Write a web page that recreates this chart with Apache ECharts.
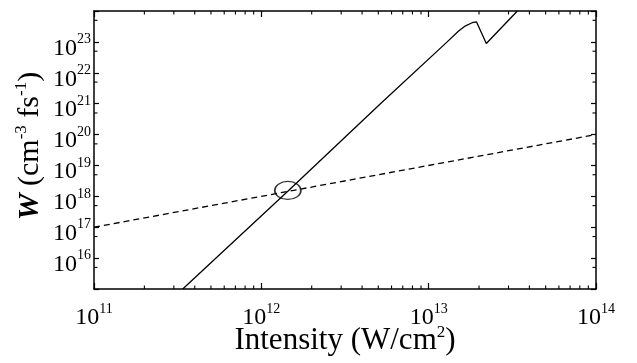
<!DOCTYPE html>
<html>
<head>
<meta charset="utf-8">
<script src="https://cdn.jsdelivr.net/npm/echarts@6/dist/echarts.min.js"></script>
<style>html,body{margin:0;padding:0;background:#fff;}#c{width:637px;height:363px;}</style>
</head>
<body>
<div id="c"></div>
<script>
// ---- data ----
const solidI = [3.39e11, 1.45e12, 5.13e12, 1.29e13, 1.51e13, 1.66e13, 1.82e13, 1.93e13, 2.21e13, 3.39e13];
const solidW = [1.0e15, 1.51e18, 9.8e20, 1.0e23, 2.24e23, 3.31e23, 4.17e23, 4.47e23, 8.9e22, 1.0e24];
const dashI = [1e11, 1e14];
const dashW = [1e17, 1e20];
const markI = [1.44e12];
const markW = [1.55e18];
const xMinorTicks = [2e11,3e11,4e11,5e11,6e11,7e11,8e11,9e11,
                     2e12,3e12,4e12,5e12,6e12,7e12,8e12,9e12,
                     2e13,3e13,4e13,5e13,6e13,7e13,8e13,9e13];
const yMinorTicks = [5e15,5e16,5e17,5e18,5e19,5e20,5e21,5e22,5e23];
const xLabelExps = [11, 12, 13, 14];
const yLabelExps = [16, 17, 18, 19, 20, 21, 22, 23];
const X_MIN = 1e11, X_MAX = 1e14, Y_MIN = 1e15, Y_MAX = 1e24;

const FONT = 'Liberation Serif';
const zip = (a, b) => a.map((v, i) => [v, b[i]]);
const expOf = v => Math.round(Math.log10(v));

const tickRich = {
  b: { fontFamily: FONT, fontSize: 24, color: '#000', lineHeight: 32 },
  s: { fontFamily: FONT, fontSize: 14, color: '#000', verticalAlign: 'top', lineHeight: 14 }
};
function fmt(list) {
  return function (v) {
    const e = expOf(v);
    if (list.indexOf(e) < 0) return '';
    return '{b|10}{s|' + e + '}';
  };
}

const axisLine = { show: true, lineStyle: { color: '#000', width: 1.5 } };

const chart = echarts.init(document.getElementById('c'), null, { renderer: 'canvas' });
chart.setOption({
  animation: false,
  backgroundColor: '#fff',
  grid: { left: 94, right: 41, top: 11, bottom: 74, containLabel: false, outerBoundsMode: 'none' },
  xAxis: [
    {
      type: 'log', min: X_MIN, max: X_MAX, interval: 1, position: 'bottom',
      axisLine: axisLine,
      axisTick: { show: true, inside: true, length: 6, lineStyle: { color: '#000', width: 1.2 } },
      splitLine: { show: false },
      axisLabel: { formatter: fmt(xLabelExps), margin: 13, rich: tickRich },
      name: '{n|Intensity (W/cm}{sp|2}{n|)}',
      nameLocation: 'middle', nameGap: 35, nameMoveOverlap: false,
      nameTextStyle: {
        rich: {
          n: { fontFamily: FONT, fontSize: 31, color: '#000', lineHeight: 34 },
          sp: { fontFamily: FONT, fontSize: 17, color: '#000', verticalAlign: 'top', lineHeight: 17 }
        }
      }
    },
    {
      type: 'log', min: X_MIN, max: X_MAX, interval: 1, position: 'top',
      axisLine: axisLine,
      axisTick: { show: true, inside: true, length: 6, lineStyle: { color: '#000', width: 1.2 } },
      splitLine: { show: false },
      axisLabel: { show: false }
    }
  ],
  yAxis: [
    {
      type: 'log', min: Y_MIN, max: Y_MAX, interval: 1, position: 'left',
      axisLine: axisLine,
      axisTick: { show: true, inside: true, length: 5, lineStyle: { color: '#000', width: 1.2 } },
      splitLine: { show: false },
      axisLabel: { formatter: fmt(yLabelExps), margin: 3, padding: [13, 0, 0, 0], rich: tickRich },
      name: '{w|W}{n| (cm}{sp|-3}{n| fs}{sp|-1}{n|)}',
      nameLocation: 'middle', nameGap: 47, nameRotate: 90, nameMoveOverlap: false,
      nameTextStyle: {
        padding: [0, 0, 0, 8],
        rich: {
          w: { fontFamily: FONT, fontSize: 30, fontStyle: 'italic', fontWeight: 'bold', color: '#000', lineHeight: 34 },
          n: { fontFamily: FONT, fontSize: 30, color: '#000', lineHeight: 34 },
          sp: { fontFamily: FONT, fontSize: 17, color: '#000', verticalAlign: 'top', lineHeight: 17 }
        }
      }
    },
    {
      type: 'log', min: Y_MIN, max: Y_MAX, interval: 1, position: 'right',
      axisLine: axisLine,
      axisTick: { show: true, inside: true, length: 5, lineStyle: { color: '#000', width: 1.2 } },
      splitLine: { show: false },
      axisLabel: { show: false }
    }
  ],
  series: [
    {
      type: 'line', name: 'solid', data: zip(solidI, solidW),
      showSymbol: false, symbol: 'none', smooth: false,
      lineStyle: { color: '#000', width: 1.3, type: 'solid' }, z: 3
    },
    {
      type: 'line', name: 'dashed', data: zip(dashI, dashW),
      showSymbol: false, symbol: 'none',
      lineStyle: { color: '#000', width: 1.3, type: [6, 4] }, z: 3
    },
    {
      type: 'scatter', name: 'mark', data: zip(markI, markW),
      symbol: 'circle', symbolSize: [26, 18],
      itemStyle: { color: 'rgba(0,0,0,0)', borderColor: '#000', borderWidth: 1.5 }, z: 4
    },
    {
      type: 'custom', name: 'xminor', silent: true, z: 5,
      data: xMinorTicks.map(v => [v, Y_MIN]),
      renderItem: function (params, api) {
        const v = api.value(0);
        const pb = api.coord([v, Y_MIN]);
        const pt = api.coord([v, Y_MAX]);
        return { type: 'group', children: [
          { type: 'line', shape: { x1: pb[0], y1: pb[1], x2: pb[0], y2: pb[1] - 3.5 }, style: { stroke: '#000', lineWidth: 1.1 } },
          { type: 'line', shape: { x1: pt[0], y1: pt[1], x2: pt[0], y2: pt[1] + 3.5 }, style: { stroke: '#000', lineWidth: 1.1 } }
        ] };
      }
    },
    {
      type: 'custom', name: 'yminor', silent: true, z: 5,
      data: yMinorTicks.map(v => [X_MIN, v]),
      renderItem: function (params, api) {
        const v = api.value(1);
        const pl = api.coord([X_MIN, v]);
        const pr = api.coord([X_MAX, v]);
        return { type: 'group', children: [
          { type: 'line', shape: { x1: pl[0], y1: pl[1], x2: pl[0] + 3.5, y2: pl[1] }, style: { stroke: '#000', lineWidth: 1.1 } },
          { type: 'line', shape: { x1: pr[0], y1: pr[1], x2: pr[0] - 3.5, y2: pr[1] }, style: { stroke: '#000', lineWidth: 1.1 } }
        ] };
      }
    }
  ]
});
</script>
</body>
</html>
